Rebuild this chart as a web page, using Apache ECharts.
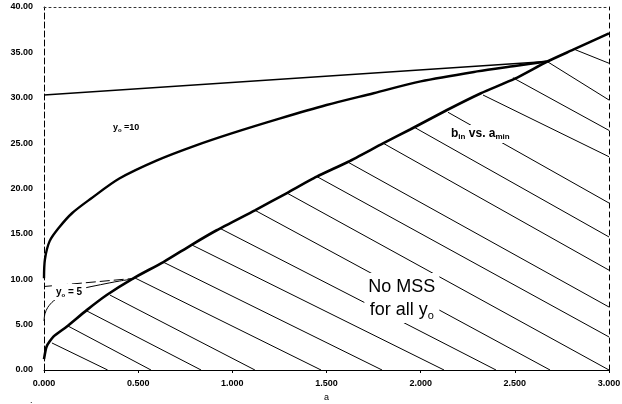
<!DOCTYPE html>
<html><head><meta charset="utf-8">
<script src="https://cdn.jsdelivr.net/npm/echarts/dist/echarts.min.js"></script>
<style>html,body{margin:0;padding:0;background:#fff}#c{width:622px;height:404px}</style>
</head><body><div id="c"></div>
<script>
// ---- data ----
const xTickValues = [0, 0.5, 1, 1.5, 2, 2.5, 3];
const yTickValues = [0, 5, 10, 15, 20, 25, 30, 35, 40];

// b_in vs a_min (thick boundary curve)
const mainA = [0, 0.014, 0.05, 0.12, 0.227, 0.333, 0.474, 0.634, 0.784, 0.917, 1.12, 1.29, 1.448, 1.616, 1.80, 1.944, 2.14, 2.32, 2.50, 2.67, 2.81, 3.0];
const mainB = [1.2, 2.6, 3.67, 4.77, 6.6, 8.26, 10.1, 11.9, 13.8, 15.4, 17.6, 19.5, 21.3, 22.95, 24.97, 26.5, 28.65, 30.5, 32.1, 33.97, 35.3, 37.1];

// y_o = 10 curve
const yo10A = [0, 0.005, 0.03, 0.08, 0.15, 0.25, 0.4, 0.6, 0.8, 1.0, 1.25, 1.5, 1.75, 2.0, 2.3, 2.5, 2.67];
const yo10B = [10.1, 12.2, 14.2, 15.7, 17.3, 18.9, 21.1, 23.1, 24.7, 26.1, 27.7, 29.2, 30.5, 31.8, 32.9, 33.5, 34.0];

// upper straight line (y_o = 10 asymptote)
const topA = [0, 2.67];
const topB = [30.3, 34.0];

// y_o = 5 curve
const yo5A = [0, 0.005, 0.02, 0.05, 0.1, 0.2, 0.3, 0.4, 0.48];
const yo5B = [5.4, 6.2, 6.9, 7.6, 8.25, 8.95, 9.4, 9.8, 10.05];

// y_o = 5 dashed line
const dashA = [0, 0.48];
const dashB = [9.2, 10.1];

// hatch lines (start on curve -> end on axis / right edge)
const hatchStartA = [0.042, 0.127, 0.228, 0.350, 0.483, 0.632, 0.786, 0.935, 1.120, 1.290, 1.450, 1.614, 1.800, 1.970, 2.145, 2.331, 2.490, 2.671, 2.82];
const hatchStartB = [2.98, 4.85, 6.5, 8.26, 10.14, 11.9, 13.77, 15.6, 17.6, 19.5, 21.3, 22.9, 25.0, 26.7, 28.4, 30.3, 32.2, 34.0, 35.3];
const hatchEndA   = [0.338, 0.568, 0.834, 1.120, 1.471, 1.795, 2.124, 2.400, 2.687, 3.0, 3.0, 3.0, 3.0, 3.0, 3.0, 3.0, 3.0, 3.0, 3.0];
const hatchEndB   = [0, 0, 0, 0, 0, 0, 0, 0, 0, 0, 3.64, 6.94, 11.0, 14.66, 18.4, 23.5, 26.4, 29.75, 33.8];

// ---- chart ----
const zip = (a, b) => a.map((v, i) => [v, b[i]]);
const hatchData = hatchStartA.map((v, i) => ({coords: [[v, hatchStartB[i]], [hatchEndA[i], hatchEndB[i]]]}));

const chart = echarts.init(document.getElementById('c'), null, {renderer: 'canvas'});
const fam = 'Liberation Sans, Arial, sans-serif';
const tickFont = {color: '#000', fontSize: 9, fontWeight: 'bold', fontFamily: fam};

chart.setOption({
  animation: false,
  backgroundColor: '#fff',
  grid: {left: 44, right: 13, top: 7, bottom: 34, containLabel: false, outerBoundsMode: 'none'},
  xAxis: [{
    type: 'value', min: 0, max: 3, interval: 0.5, position: 'bottom',
    name: 'a', nameLocation: 'middle', nameGap: 22,
    nameTextStyle: {color: '#000', fontSize: 9, fontFamily: fam},
    axisLine: {show: true, onZero: false, lineStyle: {color: '#000', width: 1}},
    axisTick: {show: true, length: 3, lineStyle: {color: '#000'}},
    axisLabel: Object.assign({margin: 9, formatter: v => v.toFixed(3)}, tickFont),
    splitLine: {show: false}
  }, {
    type: 'value', min: 0, max: 3, position: 'top',
    axisLine: {show: true, onZero: false, lineStyle: {color: '#333', width: 1, type: [2, 3]}},
    axisTick: {show: false}, axisLabel: {show: false}, splitLine: {show: false}
  }],
  yAxis: [{
    type: 'value', min: 0, max: 40, interval: 5, position: 'left',
    name: 'b', nameLocation: 'middle', nameGap: 36, nameRotate: 90,
    nameTextStyle: {color: '#000', fontSize: 9, fontFamily: fam},
    axisLine: {show: true, onZero: false, lineStyle: {color: '#000', width: 1, type: [6, 3]}},
    axisTick: {show: false},
    axisLabel: Object.assign({margin: 11, formatter: v => v.toFixed(2)}, tickFont),
    splitLine: {show: false}
  }, {
    type: 'value', min: 0, max: 40, position: 'right',
    axisLine: {show: true, onZero: false, lineStyle: {color: '#000', width: 1, type: [5, 4]}},
    axisTick: {show: false}, axisLabel: {show: false}, splitLine: {show: false}
  }],
  series: [
    {type: 'lines', coordinateSystem: 'cartesian2d', silent: true, z: 1,
     lineStyle: {color: '#000', width: 1, opacity: 1}, data: hatchData},
    {type: 'line', name: 'dash5', data: zip(dashA, dashB), showSymbol: false, symbol: 'none', z: 3,
     lineStyle: {color: '#000', width: 1, type: [10, 4]}},
    {type: 'line', name: 'yo5', data: zip(yo5A, yo5B), showSymbol: false, symbol: 'none', smooth: 0.3, z: 3,
     lineStyle: {color: '#000', width: 1}},
    {type: 'line', name: 'top', data: zip(topA, topB), showSymbol: false, symbol: 'none', z: 3,
     lineStyle: {color: '#000', width: 1.6}},
    {type: 'line', name: 'yo10', data: zip(yo10A, yo10B), showSymbol: false, symbol: 'none', smooth: 0.3, z: 4,
     lineStyle: {color: '#000', width: 2.4}},
    {type: 'line', name: 'main', data: zip(mainA, mainB), showSymbol: false, symbol: 'none', smooth: 0.2, z: 5,
     lineStyle: {color: '#000', width: 2.6}}
  ]
});

// ---- annotations (anchored in data space) ----
const P = (a, b) => chart.convertToPixel({gridIndex: 0}, [a, b]);
const notes = [
  {at: [0.366, 26.67], align: 'left', text: '{m|y}{s|o}{m| =10}',
   rich: {m: {fontSize: 9, fontWeight: 'bold', fontFamily: fam, lineHeight: 11}, s: {fontSize: 6, fontWeight: 'bold', fontFamily: fam, verticalAlign: 'bottom', lineHeight: 8}}, bg: null},
  {at: [0.042, 8.6], align: 'left', text: '{m|y}{s|o}{m| = 5}',
   rich: {m: {fontSize: 10, fontWeight: 'bold', fontFamily: fam, lineHeight: 12}, s: {fontSize: 6, fontWeight: 'bold', fontFamily: fam, verticalAlign: 'bottom', lineHeight: 8}}, bg: '#fff'},
  {at: [2.14, 26.0], align: 'left', text: '{m|b}{s|in}{m| vs. a}{s|min}',
   rich: {m: {fontSize: 12, fontWeight: 'bold', fontFamily: fam, lineHeight: 14}, s: {fontSize: 8, fontWeight: 'bold', fontFamily: fam, verticalAlign: 'bottom', lineHeight: 10}}, bg: '#fff'},
  {at: [1.90, 7.93], align: 'center', text: '{m|No MSS}\n{m|for all y}{s|o}',
   rich: {m: {fontSize: 18, fontFamily: fam, lineHeight: 23}, s: {fontSize: 11, fontFamily: fam, verticalAlign: 'bottom', lineHeight: 14}}, bg: '#fff'}
];
chart.setOption({
  graphic: notes.map(n => {
    const p = P(n.at[0], n.at[1]);
    return {type: 'text', x: p[0], y: p[1], z: 100,
      style: {text: n.text, rich: n.rich, fill: '#000', align: n.align, verticalAlign: 'middle',
        backgroundColor: n.bg || 'transparent', padding: n.bg ? [2, 4] : 0}};
  }).concat([{type: 'text', x: 30, y: 396, z: 100, style: {text: '.', fill: '#000', fontSize: 9, fontFamily: fam}}])
});
</script>
</body></html>
